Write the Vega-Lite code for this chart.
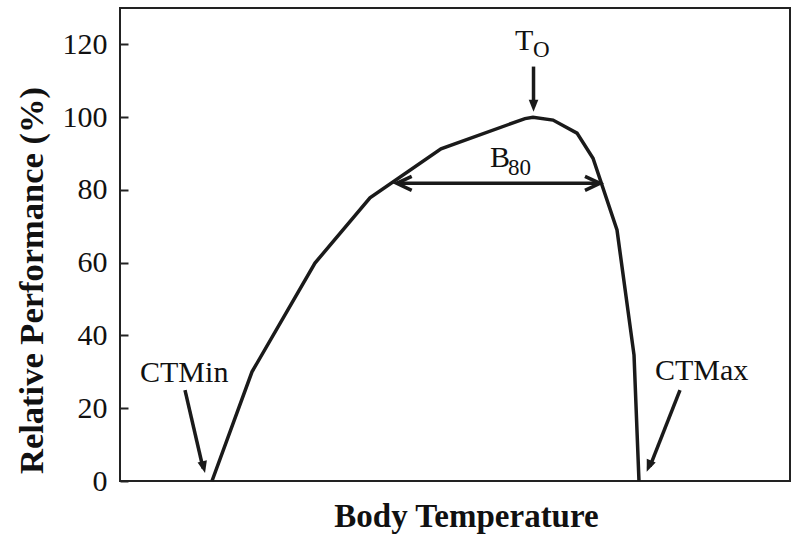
{
  "$schema": "https://vega.github.io/schema/vega-lite/v6.json",
  "width": 670,
  "height": 473,
  "autosize": {"type": "none"},
  "padding": {"left": 120, "top": 8, "right": 9, "bottom": 59},
  "background": "white",
  "config": {
    "font": "Liberation Serif",
    "view": {"stroke": "#222222", "strokeWidth": 2},
    "axis": {"grid": false}
  },
  "datasets": {
    "curve": [
      {"x": 13.73, "y": 0},
      {"x": 19.70, "y": 30.0},
      {"x": 29.10, "y": 59.9},
      {"x": 37.31, "y": 77.8},
      {"x": 47.91, "y": 91.3},
      {"x": 60.45, "y": 99.6},
      {"x": 61.64, "y": 100.0},
      {"x": 64.63, "y": 99.2},
      {"x": 68.21, "y": 95.6},
      {"x": 70.60, "y": 88.7},
      {"x": 74.18, "y": 69.0},
      {"x": 76.72, "y": 34.6},
      {"x": 77.46, "y": 0}
    ],
    "arrows": [
      {"name": "B80", "x": 41.3, "y": 81.8, "x2": 71.64, "y2": 81.8},
      {"name": "TO", "x": 61.72, "y": 113.9, "x2": 61.72, "y2": 103.0},
      {"name": "CTMin", "x": 9.70, "y": 25.0, "x2": 12.4, "y2": 3.5},
      {"name": "CTMax", "x": 83.58, "y": 25.0, "x2": 79.1, "y2": 4.0}
    ],
    "heads": [
      {"name": "B80L", "x": 41.3, "y": 81.8},
      {"name": "B80R", "x": 71.64, "y": 81.8},
      {"name": "TO", "x": 61.72, "y": 101.5},
      {"name": "CTMin", "x": 12.69, "y": 2.2},
      {"name": "CTMax", "x": 78.61, "y": 2.56}
    ],
    "labels": [
      {"label": "CTMin", "kind": "main", "x": 2.99, "y": 27.3},
      {"label": "CTMax", "kind": "main", "x": 79.85, "y": 27.76},
      {"label": "T", "kind": "main", "x": 58.96, "y": 118.5},
      {"label": "B", "kind": "main", "x": 55.22, "y": 86.3},
      {"label": "O", "kind": "sub", "x": 61.64, "y": 116.5},
      {"label": "80", "kind": "sub", "x": 57.91, "y": 84.1}
    ]
  },
  "encoding": {
    "x": {
      "field": "x",
      "type": "quantitative",
      "scale": {"domain": [0, 100], "nice": false, "zero": false},
      "axis": {
        "title": "Body Temperature",
        "titleFont": "Liberation Serif",
        "titleFontSize": 33,
        "titleFontWeight": "bold",
        "titleColor": "#111111",
        "titlePadding": 19,
        "titleX": 346,
        "labels": false,
        "ticks": false,
        "domain": false
      }
    },
    "y": {
      "field": "y",
      "type": "quantitative",
      "scale": {"domain": [0, 130], "nice": false, "zero": false},
      "axis": {
        "title": "Relative Performance (%)",
        "titleFont": "Liberation Serif",
        "titleFontSize": 34.5,
        "titleFontWeight": "bold",
        "titleColor": "#111111",
        "titlePadding": 13,
        "titleY": 272,
        "values": [0, 20, 40, 60, 80, 100, 120],
        "labelFont": "Liberation Serif",
        "labelFontSize": 30,
        "labelColor": "#111111",
        "labelPadding": 21,
        "tickSize": -8,
        "tickWidth": 2,
        "tickColor": "#222222",
        "domain": false
      }
    }
  },
  "layer": [
    {
      "data": {"name": "curve"},
      "mark": {"type": "line", "color": "#1a1a1a", "strokeWidth": 3.5, "interpolate": "linear"}
    },
    {
      "data": {"name": "arrows"},
      "mark": {"type": "rule", "color": "#1a1a1a", "strokeWidth": 3.5},
      "encoding": {
        "x2": {"field": "x2"},
        "y2": {"field": "y2"}
      }
    },
    {
      "data": {"name": "heads"},
      "transform": [{"filter": "datum.name === 'TO'"}],
      "mark": {"type": "point", "shape": "M0,0L-1,-0.4L-1,0.4Z", "size": 576, "filled": true, "opacity": 1, "color": "#1a1a1a", "angle": 90}
    },
    {
      "data": {"name": "heads"},
      "transform": [{"filter": "datum.name === 'CTMin'"}],
      "mark": {"type": "point", "shape": "M0,0L-1,-0.4L-1,0.4Z", "size": 576, "filled": true, "opacity": 1, "color": "#1a1a1a", "angle": 76.5}
    },
    {
      "data": {"name": "heads"},
      "transform": [{"filter": "datum.name === 'CTMax'"}],
      "mark": {"type": "point", "shape": "M0,0L-1,-0.4L-1,0.4Z", "size": 576, "filled": true, "opacity": 1, "color": "#1a1a1a", "angle": 112.2}
    },
    {
      "data": {"name": "heads"},
      "transform": [{"filter": "datum.name === 'B80R'"}],
      "mark": {"type": "point", "shape": "M-1,-0.47L0,0L-1,0.47", "size": 900, "filled": false, "opacity": 1, "color": "#1a1a1a", "strokeWidth": 3.5, "angle": 0}
    },
    {
      "data": {"name": "heads"},
      "transform": [{"filter": "datum.name === 'B80L'"}],
      "mark": {"type": "point", "shape": "M-1,-0.47L0,0L-1,0.47", "size": 900, "filled": false, "opacity": 1, "color": "#1a1a1a", "strokeWidth": 3.5, "angle": 180}
    },
    {
      "data": {"name": "labels"},
      "transform": [{"filter": "datum.kind === 'main'"}],
      "mark": {"type": "text", "align": "left", "baseline": "alphabetic", "fontSize": 30, "font": "Liberation Serif", "color": "#111111"},
      "encoding": {"text": {"field": "label"}}
    },
    {
      "data": {"name": "labels"},
      "transform": [{"filter": "datum.kind === 'sub'"}],
      "mark": {"type": "text", "align": "left", "baseline": "alphabetic", "fontSize": 23, "font": "Liberation Serif", "color": "#111111"},
      "encoding": {"text": {"field": "label"}}
    }
  ]
}
